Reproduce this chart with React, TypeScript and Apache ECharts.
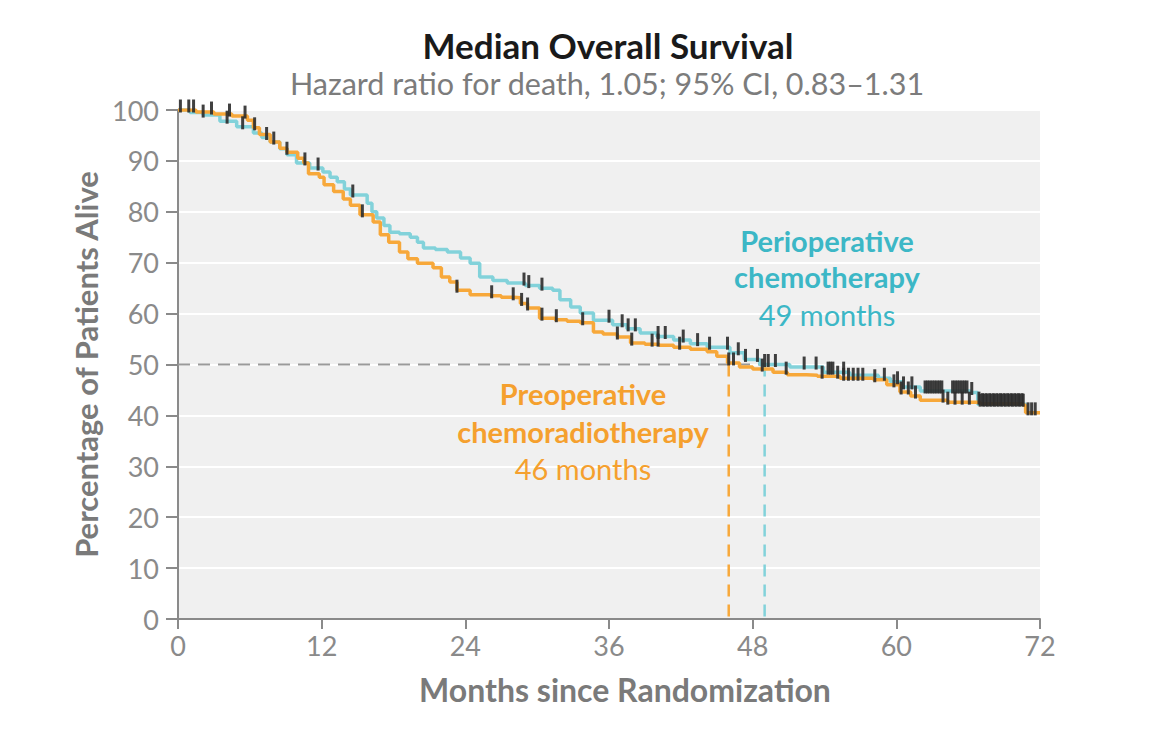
import React, { useEffect, useRef } from "react";
import * as echarts from "echarts";

const xTicks = [0, 12, 24, 36, 48, 60, 72];

// Preoperative chemoradiotherapy (orange): [month, percent alive]
const preopCurve: [number, number][] = [
  [0, 100], [1.5, 99.6], [3, 99.2], [4.5, 98.8], [5.8, 98], [6.3, 96.5], [6.8, 95.2],
  [7.7, 93.7], [8.5, 92.5], [9.1, 91.7], [10, 90.5], [10.5, 89.6], [10.9, 87.5],
  [11.8, 86.8], [12.2, 85.3], [13, 84], [13.8, 82.5], [14.4, 81.3], [15.2, 79.4],
  [16.3, 78], [16.9, 75.5], [17.6, 74], [18.5, 72.1], [19.2, 70.8], [20, 69.9],
  [21.3, 69], [22, 67.2], [22.7, 66.2], [23.3, 64.6], [24.4, 63.7], [26.1, 63.5],
  [27, 63.2], [28, 63.1], [28.6, 62], [29.2, 61.1], [30.2, 59.1], [31.5, 58.8],
  [32.5, 58.5], [33.6, 58.2], [34.7, 56.4], [35.5, 56], [36.7, 55.4], [37.8, 54.2],
  [39, 54], [40.2, 53.8], [41.4, 53.4], [42.8, 53], [44.2, 52.5], [45, 51.6],
  [45.9, 50.3], [46.9, 49.5], [48, 49.1], [49.7, 48.5], [50.9, 48], [52.5, 47.9],
  [53.4, 47.7], [55.3, 47.3], [58.1, 47], [59.2, 46], [60.3, 44.6], [61.2, 43.8],
  [62, 43], [64.3, 42.6], [67, 42.3], [70.6, 42], [70.8, 40.5], [72, 40.5],
];

// Perioperative chemotherapy (teal)
const periopCurve: [number, number][] = [
  [0, 100], [1, 99.5], [2.1, 99], [3.5, 97.8], [4.9, 96.7], [6.3, 95.5], [7, 94.6],
  [7.7, 93.7], [8.5, 92.4], [9.1, 91.2], [9.9, 89.6], [11, 88.6], [12.1, 87.8],
  [12.7, 86.8], [13.3, 85.9], [13.9, 84.5], [14.4, 83.3], [15.8, 81.7], [16.2, 80],
  [16.6, 78.8], [17.2, 77.3], [17.7, 76], [18.5, 75.7], [19.4, 75], [20, 74],
  [20.5, 72.9], [21.5, 72.6], [22.5, 72.1], [23.6, 70.9], [24.4, 69.9], [25.2, 67.2],
  [26.3, 66.5], [27.5, 66], [29, 65.5], [30.2, 65], [31.3, 64.6], [31.9, 62.7],
  [32.8, 61.3], [33.6, 60.1], [34.7, 58.7], [36.3, 57.8], [37.5, 57], [38.6, 56.2],
  [40, 55.5], [41.4, 54.8], [42.8, 54.1], [44.2, 53.4], [46.1, 52.3], [47.3, 51],
  [48.6, 50], [51.1, 49.5], [53.9, 48.5], [56.1, 47.9], [58.5, 47.3], [59.5, 46.6],
  [60.5, 45.6], [62, 44.8], [66.2, 44.5], [66.8, 42.2], [70.8, 42],
];

// Censoring times (months)
const preopCensor = [
  0.2, 1.3, 2.8, 4.3, 5.6, 6.4, 8.0, 9.1, 10.6, 15.4, 23.3, 26.2, 28.0, 28.7, 29.2,
  30.4, 31.6, 33.8, 36.7, 37.9, 39.6, 40.1, 41.9, 46.0, 46.4, 48.8, 50.8, 53.8, 55.1,
  55.6, 56.0, 56.4, 56.8, 57.2, 58.2, 59.8, 60.4, 61.0, 61.6, 63.9, 64.3, 64.9, 65.5,
  66.1, 66.9, 67.2, 67.5, 67.8, 68.1, 68.4, 68.7, 69.0, 69.3, 69.6, 69.9, 70.2, 70.5,
  71.0, 71.3, 71.6,
];
const periopCensor = [
  0.9, 2.1, 4.1, 5.4, 7.4, 11.7, 14.6, 28.9, 29.3, 30.4, 36.0, 37.1, 37.6, 38.2, 40.1,
  40.7, 42.2, 43.4, 44.4, 45.9, 46.8, 47.4, 48.4, 49.0, 49.3, 49.9, 52.3, 53.3, 54.3,
  54.5, 54.7, 55.6, 59.0, 60.1, 60.6, 61.3, 62.4, 62.6, 62.8, 63.0, 63.2, 63.4, 63.6,
  63.8, 64.7, 64.9, 65.1, 65.3, 65.5, 65.7, 65.9, 66.3, 67.0, 67.3, 67.6, 67.9, 68.2,
  68.5, 68.8, 69.1, 69.4, 69.7, 70.0, 70.3, 70.6,
];

const medianPreop = 46;
const medianPeriop = 49;
const medianLevel = 50;

const TEAL_LINE = "#82d2da";
const TEAL_TEXT = "#3cb7c6";
const ORANGE_LINE = "#f7a83a";
const ORANGE_TEXT = "#f5a02e";
const FONT = "Lato, 'Open Sans', sans-serif";

function valueAt(curve: [number, number][], t: number): number {
  let v = curve[0][1];
  for (const [x, y] of curve) {
    if (x <= t) v = y;
    else break;
  }
  return v;
}

export default function App() {
  const ref = useRef<HTMLDivElement>(null);
  useEffect(() => {
    if (!ref.current) return;
    const chart = echarts.init(ref.current, undefined, { renderer: "svg" });
    const censorStyle = {
      type: "scatter" as const,
      symbol: "rect",
      symbolSize: [3, 13],
      symbolOffset: [0, -4],
      itemStyle: { color: "#2b2b2b", opacity: 0.9 },
      z: 5,
      silent: true,
    };
    const annot = (text: string, x: number, y: number, color: string, bold: boolean) => ({
      type: "text",
      x,
      y,
      style: {
        text,
        fill: color,
        font: `${bold ? "bold " : ""}29px ${FONT}`,
        textAlign: "center",
        textVerticalAlign: "middle",
      },
      z: 10,
    });
    chart.setOption({
      animation: false,
      grid: {
        left: 178,
        top: 110,
        width: 862,
        height: 509,
        show: true,
        backgroundColor: "#f0f0f0",
        borderWidth: 0,
      },
      xAxis: {
        type: "value",
        min: 0,
        max: 72,
        interval: 12,
        axisLine: { show: true, lineStyle: { color: "#8a8a8a", width: 2 } },
        axisTick: { show: true, length: 10, lineStyle: { color: "#8a8a8a", width: 2 } },
        axisLabel: {
          color: "#8a8a8a",
          fontSize: 27,
          fontFamily: FONT,
          margin: 13,
          customValues: xTicks,
        },
        splitLine: { show: false },
      },
      yAxis: {
        type: "value",
        min: 0,
        max: 100,
        interval: 10,
        axisLine: { show: true, lineStyle: { color: "#8a8a8a", width: 2 } },
        axisTick: { show: true, length: 12, lineStyle: { color: "#8a8a8a", width: 2 } },
        axisLabel: { color: "#8a8a8a", fontSize: 27, fontFamily: FONT, margin: 19 },
        splitLine: { show: true, lineStyle: { color: "#ffffff", width: 2 } },
        name: "Percentage of Patients Alive",
        nameLocation: "middle",
        nameGap: 75,
        nameTextStyle: { color: "#7a7a7a", fontSize: 31, fontWeight: "bold", fontFamily: FONT },
      },
      series: [
        {
          type: "line",
          data: [[0, medianLevel], [medianPeriop, medianLevel]],
          symbol: "none",
          lineStyle: { color: "#9a9a9a", width: 2, type: [12, 8] },
          z: 1,
          silent: true,
        },
        {
          type: "line",
          data: [[medianPreop, medianLevel], [medianPreop, 0]],
          symbol: "none",
          lineStyle: { color: ORANGE_LINE, width: 2.5, type: [12, 8] },
          z: 1,
          silent: true,
        },
        {
          type: "line",
          data: [[medianPeriop, medianLevel], [medianPeriop, 0]],
          symbol: "none",
          lineStyle: { color: TEAL_LINE, width: 2.5, type: [12, 8] },
          z: 1,
          silent: true,
        },
        {
          type: "line",
          step: "end",
          data: periopCurve,
          symbol: "none",
          lineStyle: { color: TEAL_LINE, width: 3.5 },
          z: 3,
        },
        {
          type: "line",
          step: "end",
          data: preopCurve,
          symbol: "none",
          lineStyle: { color: ORANGE_LINE, width: 3.5 },
          z: 3,
        },
        { ...censorStyle, data: preopCensor.map((t) => [t, valueAt(preopCurve, t)]) },
        { ...censorStyle, data: periopCensor.map((t) => [t, valueAt(periopCurve, t)]) },
      ],
      graphic: [
        {
          type: "text",
          x: 608,
          y: 45,
          style: {
            text: "Median Overall Survival",
            fill: "#1a1a1a",
            font: `bold 35px ${FONT}`,
            textAlign: "center",
            textVerticalAlign: "middle",
          },
        },
        {
          type: "text",
          x: 607,
          y: 83,
          style: {
            text: "Hazard ratio for death, 1.05; 95% CI, 0.83–1.31",
            fill: "#7c7c7c",
            font: `30.5px ${FONT}`,
            textAlign: "center",
            textVerticalAlign: "middle",
          },
        },
        {
          type: "text",
          x: 625,
          y: 689,
          style: {
            text: "Months since Randomization",
            fill: "#7a7a7a",
            font: `bold 32px ${FONT}`,
            textAlign: "center",
            textVerticalAlign: "middle",
          },
        },
        annot("Perioperative", 827, 240, TEAL_TEXT, true),
        annot("chemotherapy", 827, 276, TEAL_TEXT, true),
        annot("49 months", 827, 314, TEAL_TEXT, false),
        annot("Preoperative", 583, 393, ORANGE_TEXT, true),
        annot("chemoradiotherapy", 583, 431, ORANGE_TEXT, true),
        annot("46 months", 583, 468, ORANGE_TEXT, false),
      ],
    });
    return () => chart.dispose();
  }, []);
  return (
    <div
      ref={ref}
      style={{ position: "fixed", left: 0, top: 0, width: 1153, height: 733, background: "#ffffff" }}
    />
  );
}
